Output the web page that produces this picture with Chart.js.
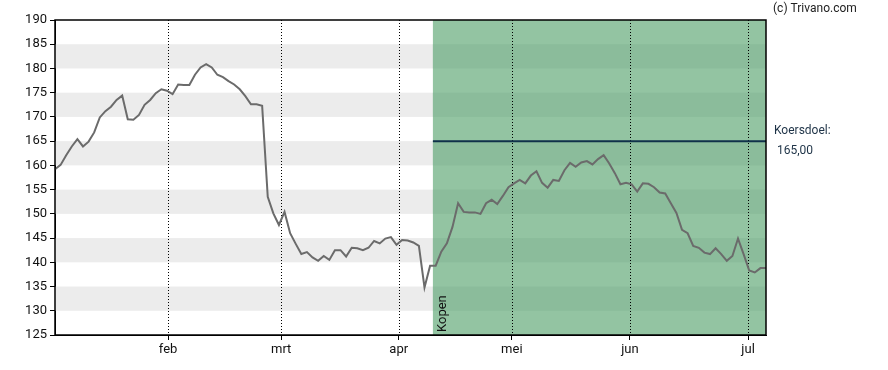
<!DOCTYPE html>
<html><head><meta charset="utf-8">
<script src="https://cdn.jsdelivr.net/npm/chart.js@4.4.1/dist/chart.umd.min.js"></script>
<style>html,body{margin:0;padding:0;background:#fff}#wrap{width:888px;height:370px;position:relative}</style>
</head><body><div id="wrap"><canvas id="c" width="888" height="370"></canvas></div>
<script>
const prices = [159.2,160.1,162.1,163.9,165.4,163.9,164.9,166.8,169.9,171.2,172.1,173.5,174.4,169.5,169.4,170.4,172.5,173.5,174.9,175.7,
175.4,174.7,176.7,176.6,176.6,178.7,180.2,180.9,180.2,178.7,178.2,177.4,176.7,175.7,174.3,172.6,172.6,172.3,153.5,150.1,
147.7,150.4,146.0,143.8,141.7,142.1,141.0,140.3,141.3,140.5,142.5,142.5,141.2,143.0,142.9,142.5,143.0,144.4,143.9,144.9,
145.2,143.6,144.6,144.5,144.1,143.4,134.8,139.3,139.3,142.2,143.9,147.3,152.2,150.4,150.3,150.3,150.0,152.2,152.9,152.0,
153.7,155.5,156.3,157.0,156.3,157.9,158.8,156.4,155.4,157.0,156.8,159.0,160.5,159.7,160.6,160.9,160.2,161.3,162.1,160.4,
158.4,156.1,156.4,156.1,154.6,156.3,156.2,155.5,154.4,154.2,152.2,150.2,146.7,146.0,143.4,143.0,142.0,141.7,142.9,141.7,
140.3,141.3,144.9,141.7,138.3,137.9,138.8,138.8];
const monthLabels = ['feb','mrt','apr','mei','jun','jul'];
const monthIndex = [20.2,40.4,61.4,81.6,102.7,123.8];
const yTicks = [125,130,135,140,145,150,155,160,165,170,175,180,185,190];
const buyStartIndex = 67.5;
const buyLabel = 'Kopen';
const targetPrice = 165.00;
const targetLabel = 'Koersdoel:';
const targetText = '165,00';
const copyright = '(c) Trivano.com';

const FONT = 'Roboto, "Liberation Sans", Arial, sans-serif';

const deco = {
  id:'deco',
  beforeDatasetsDraw(chart){
    const {ctx, chartArea:a, scales:{x,y}} = chart;
    ctx.save();
    const gx = x.getPixelForValue(buyStartIndex);
    for(let v=130; v<190; v+=10){
      const t=y.getPixelForValue(v+5), b=y.getPixelForValue(v);
      ctx.fillStyle='#ececec';
      ctx.fillRect(a.left,t,gx-a.left,b-t);
    }
    ctx.fillStyle='#93c4a2';
    ctx.fillRect(gx,a.top,a.right-gx,a.bottom-a.top);
    for(let v=130; v<190; v+=10){
      const t=y.getPixelForValue(v+5), b=y.getPixelForValue(v);
      ctx.fillStyle='#8bbc9b';
      ctx.fillRect(gx,t,a.right-gx,b-t);
    }
    ctx.strokeStyle='#000';ctx.lineWidth=1;ctx.setLineDash([1,2]);
    monthIndex.forEach(i=>{
      const px=Math.round(x.getPixelForValue(i))+0.5;
      ctx.beginPath();ctx.moveTo(px,a.top);ctx.lineTo(px,a.bottom);ctx.stroke();
    });
    ctx.setLineDash([]);
    const ty=y.getPixelForValue(targetPrice);
    ctx.strokeStyle='#10314a';ctx.lineWidth=2;
    ctx.beginPath();ctx.moveTo(gx,ty);ctx.lineTo(a.right,ty);ctx.stroke();
    ctx.save();
    ctx.translate(gx+10,a.bottom-3);ctx.rotate(-Math.PI/2);
    ctx.fillStyle='#111';ctx.font='13px '+FONT;ctx.textAlign='left';ctx.textBaseline='middle';
    ctx.fillText(buyLabel,0,0);
    ctx.restore();
    ctx.restore();
  },
  afterDraw(chart){
    const {ctx, chartArea:a, scales:{y}} = chart;
    ctx.save();
    ctx.strokeStyle='#000';ctx.lineWidth=1.5;
    ctx.strokeRect(a.left,a.top,a.right-a.left,a.bottom-a.top);
    ctx.font='12px '+FONT;ctx.fillStyle='#222';ctx.textAlign='left';ctx.textBaseline='middle';
    ctx.fillText(copyright,773,9);
    const ty=y.getPixelForValue(targetPrice);
    ctx.fillStyle='#1d3246';
    ctx.fillText(targetLabel,a.right+8,ty-10);
    ctx.fillText(targetText,a.right+11,ty+10);
    ctx.restore();
  }
};

new Chart(document.getElementById('c'),{
  type:'line',
  data:{datasets:[{data:prices.map((v,i)=>({x:i,y:v})),borderColor:'#6b6b6b',borderWidth:2,pointRadius:0,tension:0,fill:false}]},
  options:{
    responsive:false,animation:false,
    layout:{padding:{top:20,right:122,left:0,bottom:0}},
    plugins:{legend:{display:false},tooltip:{enabled:false}},
    scales:{
      x:{type:'linear',min:0,max:127,
        afterBuildTicks(s){s.ticks=monthIndex.map(v=>({value:v}));},
        afterFit(s){s.height=35;},
        ticks:{autoSkip:false,maxRotation:0,color:'#111',font:{family:FONT,size:13},padding:2,
          callback(v){const k=monthIndex.indexOf(v);return k>=0?monthLabels[k]:'';}},
        grid:{drawOnChartArea:false,drawTicks:true,tickLength:5,color:'#000'},
        border:{display:true,color:'#000'}
      },
      y:{min:125,max:190,
        afterBuildTicks(s){s.ticks=yTicks.map(v=>({value:v}));},
        afterFit(s){s.width=55;},
        ticks:{color:'#111',font:{family:FONT,size:13},padding:3},
        grid:{drawOnChartArea:false,drawTicks:true,tickLength:5,color:'#000'},
        border:{display:true,color:'#000'}
      }
    }
  },
  plugins:[deco]
});
</script></body></html>
